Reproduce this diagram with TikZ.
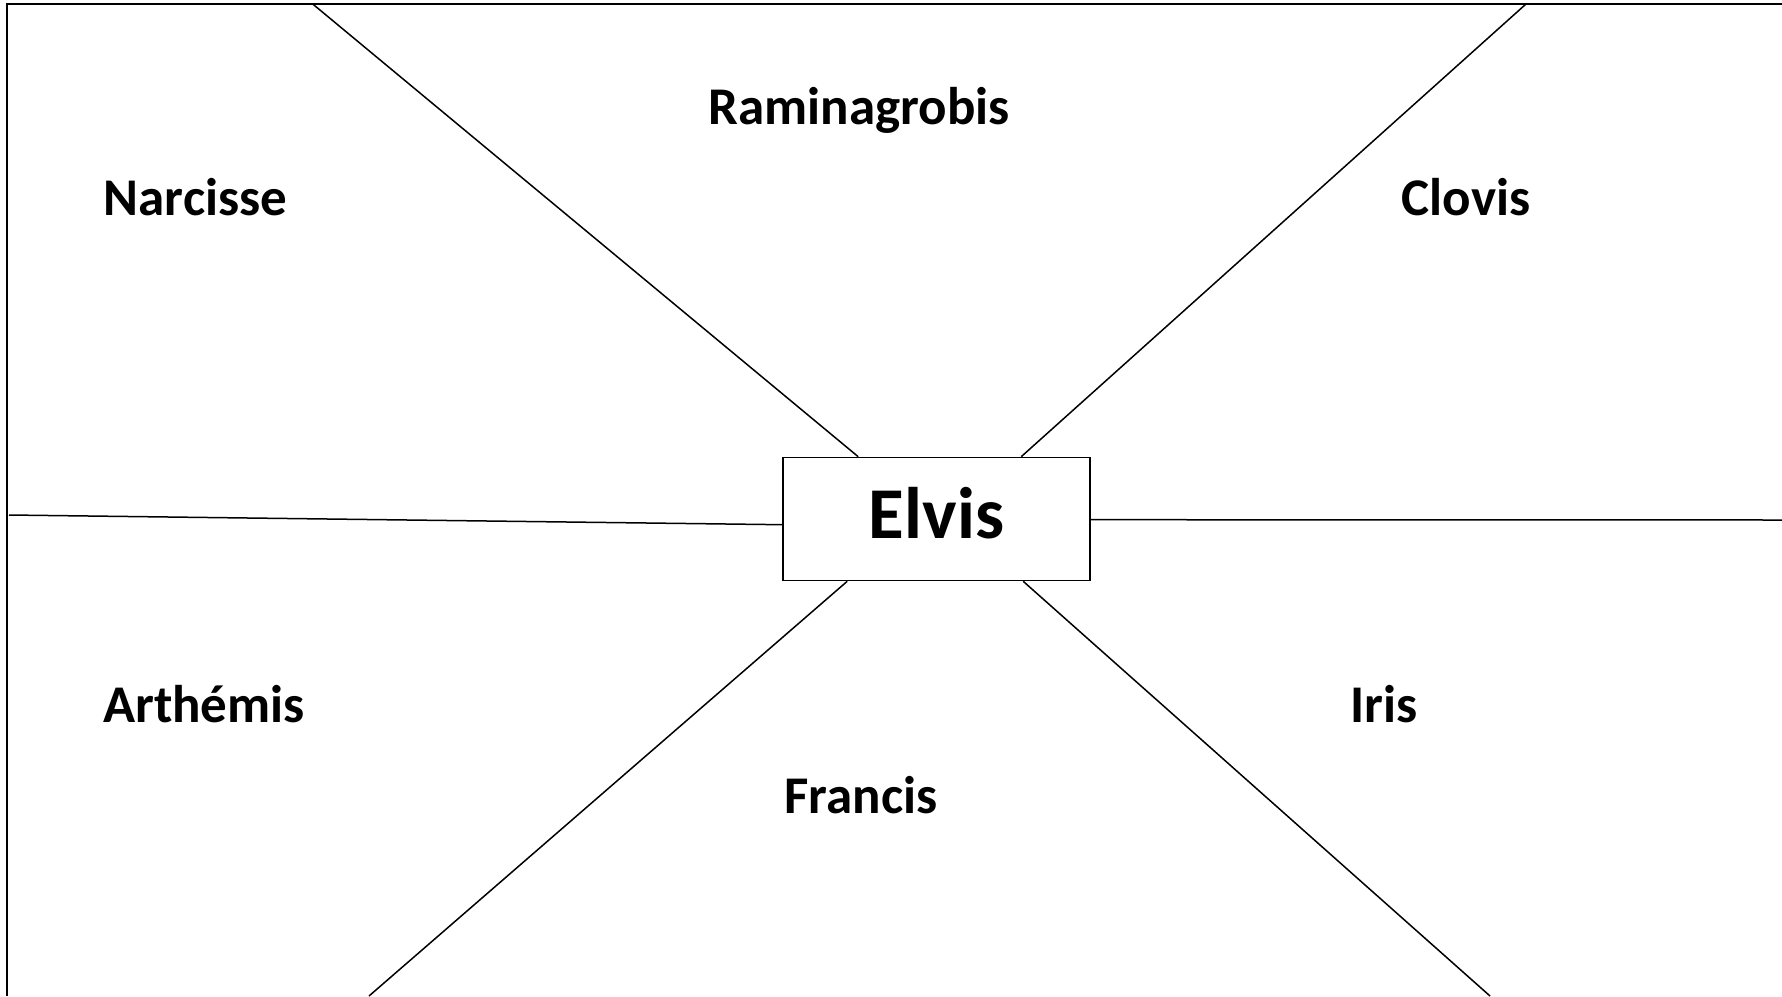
\documentclass[tikz,border=0pt]{standalone}
\usepackage{fontspec}
\setmainfont{Carlito}
\usetikzlibrary{calc}
\begin{document}
\begin{tikzpicture}[x=1pt,y=-1pt,
  lbl/.style={font=\bfseries\fontsize{53}{64}\selectfont, anchor=base, inner sep=0pt},
  hub/.style={draw, line width=1.6pt, minimum width=307pt, minimum height=123pt, inner sep=0pt},
  ray/.style={line width=1.5pt},
  frame/.style={line width=2pt}]
\useasboundingbox (0,0) rectangle (1782,996);
% frame (top and left)
\coordinate (ftr) at (1782,4);
\coordinate (ftl) at (7,4);
\coordinate (fbl) at (7,996);
\draw[frame] (ftr) -- (ftl) -- (fbl);
% hub
\node[hub] (elvis) at (936.5,519) {};
\node[font=\bfseries\fontsize{73}{88}\selectfont, anchor=base, inner sep=0pt] (elvist) at (936.5,538) {Elvis};
% ray ends
\coordinate (tl) at (312.7,4);
\coordinate (tr) at (1526,4);
\coordinate (bl) at (369,996);
\coordinate (br) at (1490,996);
\coordinate (ml) at (9,515);
\coordinate (mr) at (1782,520);
\draw[ray] (tl) -- ($(elvis.north west)+(76,0)$);
\draw[ray] (tr) -- ($(elvis.north west)+(239,0)$);
\draw[ray] (bl) -- ($(elvis.south west)+(65,0)$);
\draw[ray] (br) -- ($(elvis.south west)+(241,0)$);
\draw[ray] (ml) -- ($(elvis.north west)+(0,68)$);
\draw[ray] (mr) -- ($(elvis.north east)+(0,63)$);
% labels
\node[lbl] (ram) at (859,124) {Raminagrobis};
\node[lbl] (nar) at (195.5,215) {Narcisse};
\node[lbl] (clo) at (1466,215) {Clovis};
\node[lbl] (art) at (204,722) {Arthémis};
\node[lbl] (iri) at (1384,722) {Iris};
\node[lbl] (fra) at (861,813) {Francis};
\end{tikzpicture}
\end{document}
